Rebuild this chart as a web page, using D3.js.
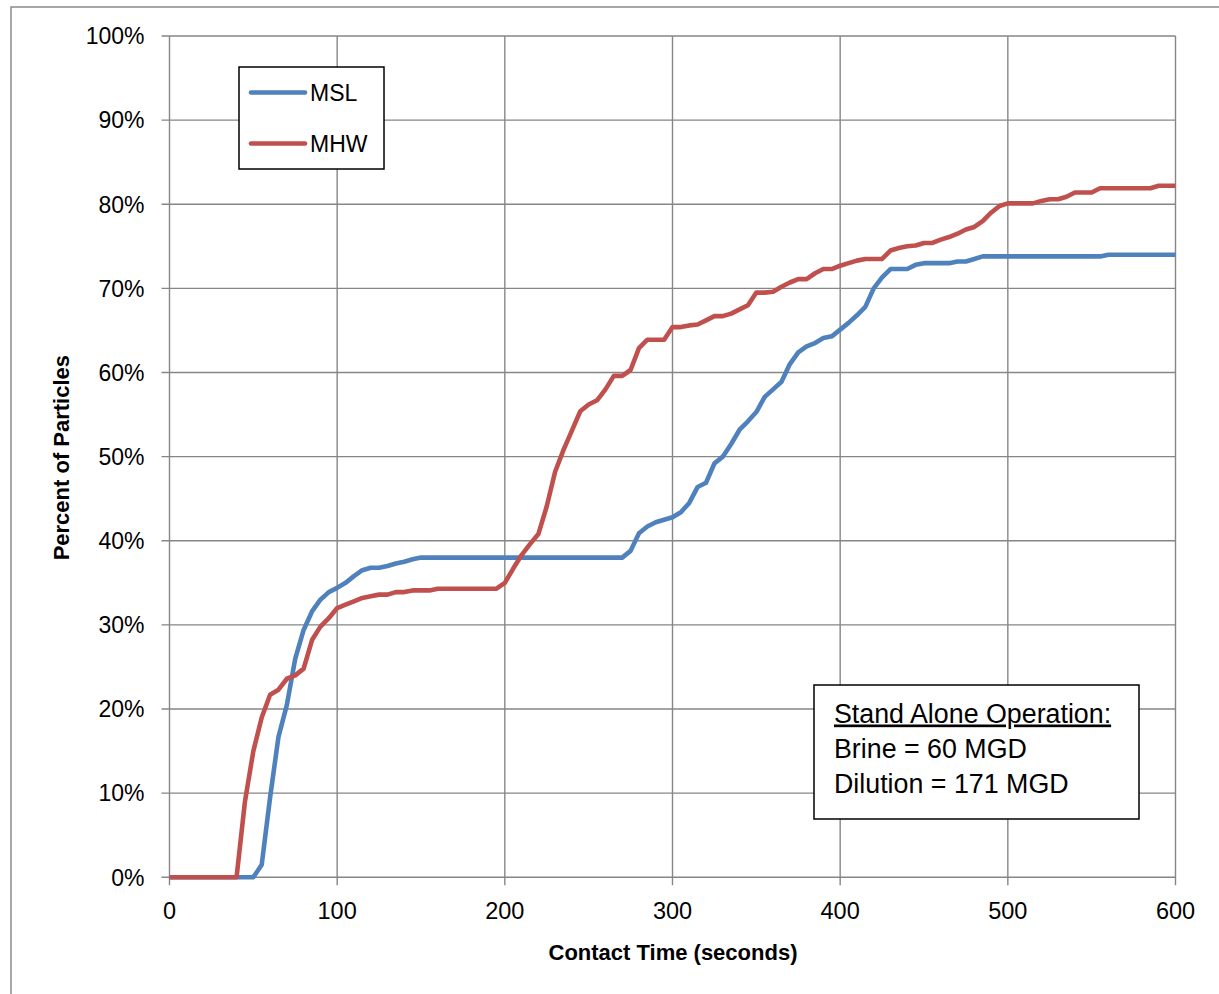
<!DOCTYPE html>
<html>
<head>
<meta charset="utf-8">
<script src="https://cdnjs.cloudflare.com/ajax/libs/d3/7.8.5/d3.min.js"></script>
<style>
    body { margin: 0; background: #fff; }
    text { font-family: "Liberation Sans", Arial, sans-serif; fill: #000; }
</style>
</head>
<body>
<div id="chart"></div>
<script>
// contact time (seconds), sampled every 5 s
var times = [
    0, 5, 10, 15, 20, 25, 30, 35, 40, 45,
    50, 55, 60, 65, 70, 75, 80, 85, 90, 95,
    100, 105, 110, 115, 120, 125, 130, 135, 140, 145,
    150, 155, 160, 165, 170, 175, 180, 185, 190, 195,
    200, 205, 210, 215, 220, 225, 230, 235, 240, 245,
    250, 255, 260, 265, 270, 275, 280, 285, 290, 295,
    300, 305, 310, 315, 320, 325, 330, 335, 340, 345,
    350, 355, 360, 365, 370, 375, 380, 385, 390, 395,
    400, 405, 410, 415, 420, 425, 430, 435, 440, 445,
    450, 455, 460, 465, 470, 475, 480, 485, 490, 495,
    500, 505, 510, 515, 520, 525, 530, 535, 540, 545,
    550, 555, 560, 565, 570, 575, 580, 585, 590, 595,
    600
];

// percent of particles
var msl = [
    0, 0, 0, 0, 0, 0, 0, 0, 0, 0,
    0, 1.5, 9.5, 16.7, 20.5, 26.0, 29.4, 31.6, 33.0, 33.9,
    34.4, 35.0, 35.8, 36.5, 36.8, 36.8, 37.0, 37.3, 37.5, 37.8,
    38.0, 38.0, 38.0, 38.0, 38.0, 38.0, 38.0, 38.0, 38.0, 38.0,
    38.0, 38.0, 38.0, 38.0, 38.0, 38.0, 38.0, 38.0, 38.0, 38.0,
    38.0, 38.0, 38.0, 38.0, 38.0, 38.8, 40.9, 41.7, 42.2, 42.5,
    42.8, 43.4, 44.5, 46.4, 46.9, 49.2, 50.0, 51.5, 53.2, 54.2,
    55.3, 57.1, 58.0, 58.9, 61.0, 62.4, 63.1, 63.5, 64.1, 64.3,
    65.1, 65.9, 66.8, 67.8, 70.0, 71.3, 72.3, 72.3, 72.3, 72.8,
    73.0, 73.0, 73.0, 73.0, 73.2, 73.2, 73.5, 73.8, 73.8, 73.8,
    73.8, 73.8, 73.8, 73.8, 73.8, 73.8, 73.8, 73.8, 73.8, 73.8,
    73.8, 73.8, 74.0, 74.0, 74.0, 74.0, 74.0, 74.0, 74.0, 74.0,
    74.0
];

var mhw = [
    0, 0, 0, 0, 0, 0, 0, 0, 0, 9.0,
    15.0, 19.0, 21.7, 22.3, 23.6, 24.0, 24.8, 28.2, 29.8, 30.8,
    32.0, 32.4, 32.8, 33.2, 33.4, 33.6, 33.6, 33.9, 33.9, 34.1,
    34.1, 34.1, 34.3, 34.3, 34.3, 34.3, 34.3, 34.3, 34.3, 34.3,
    35.0, 36.7, 38.3, 39.6, 40.8, 44.1, 48.2, 50.8, 53.1, 55.4,
    56.2, 56.7, 58.0, 59.6, 59.6, 60.3, 62.9, 63.9, 63.9, 63.9,
    65.4, 65.4, 65.6, 65.7, 66.2, 66.7, 66.7, 67.0, 67.5, 68.0,
    69.5, 69.5, 69.6, 70.2, 70.7, 71.1, 71.1, 71.8, 72.3, 72.3,
    72.7, 73.0, 73.3, 73.5, 73.5, 73.5, 74.5, 74.8, 75.0, 75.1,
    75.4, 75.4, 75.8, 76.1, 76.5, 77.0, 77.3, 78.0, 79.0, 79.8,
    80.1, 80.1, 80.1, 80.1, 80.4, 80.6, 80.6, 80.9, 81.4, 81.4,
    81.4, 81.9, 81.9, 81.9, 81.9, 81.9, 81.9, 81.9, 82.2, 82.2,
    82.2
];

var xTicks = [0, 100, 200, 300, 400, 500, 600];
var yTicks = [0, 10, 20, 30, 40, 50, 60, 70, 80, 90, 100];
var seriesNames = ["MSL", "MHW"];
var seriesColors = ["#4F81BD", "#C0504D"];
var noteLines = ["Stand Alone Operation:", "Brine = 60 MGD", "Dilution = 171 MGD"];

var W = 1219, H = 994;
var margin = { top: 36, right: 43.5, bottom: 116.7, left: 169.5 },
    width = W - margin.left - margin.right,
    height = H - margin.top - margin.bottom;

var root = d3.select("#chart").append("svg")
    .attr("width", W)
    .attr("height", H);

root.append("rect")
    .attr("width", W).attr("height", H)
    .attr("fill", "#fff");

// outer chart border
root.append("rect")
    .attr("x", 11).attr("y", 7)
    .attr("width", W + 20).attr("height", H + 20)
    .attr("fill", "none")
    .attr("stroke", "#8c8c8c")
    .attr("stroke-width", 1.5);

var svg = root.append("g")
    .attr("transform", "translate(" + margin.left + "," + margin.top + ")");

var x = d3.scaleLinear().domain([0, 600]).range([0, width]);
var y = d3.scaleLinear().domain([0, 100]).range([height, 0]);

// grid
svg.append("g")
    .selectAll("line")
    .data(yTicks)
    .enter().append("line")
    .attr("x1", -8).attr("x2", width)
    .attr("y1", function(d) { return y(d); })
    .attr("y2", function(d) { return y(d); })
    .attr("stroke", "#868686")
    .attr("stroke-width", 1.4);

svg.append("g")
    .selectAll("line")
    .data(xTicks)
    .enter().append("line")
    .attr("y1", 0).attr("y2", height + 8)
    .attr("x1", function(d) { return x(d); })
    .attr("x2", function(d) { return x(d); })
    .attr("stroke", "#868686")
    .attr("stroke-width", 1.4);

// tick labels
svg.append("g")
    .selectAll("text")
    .data(yTicks)
    .enter().append("text")
    .attr("x", -25)
    .attr("y", function(d) { return y(d); })
    .attr("dy", "0.36em")
    .attr("text-anchor", "end")
    .style("font-size", "23px")
    .text(function(d) { return d + "%"; });

svg.append("g")
    .selectAll("text")
    .data(xTicks)
    .enter().append("text")
    .attr("x", function(d) { return x(d); })
    .attr("y", height + 41.5)
    .attr("text-anchor", "middle")
    .style("font-size", "23.5px")
    .text(function(d) { return d; });

// axis titles
svg.append("text")
    .attr("x", width / 2 + 0.5)
    .attr("y", height + 82.5)
    .attr("text-anchor", "middle")
    .style("font-size", "22px")
    .style("font-weight", "bold")
    .text("Contact Time (seconds)");

svg.append("text")
    .attr("transform", "translate(" + (-100.5) + "," + (y(50) + 1) + ") rotate(-90)")
    .attr("text-anchor", "middle")
    .style("font-size", "22px")
    .style("font-weight", "bold")
    .text("Percent of Particles");

// lines
var series = [msl, mhw];
var line = d3.line()
    .x(function(d, i) { return x(times[i]); })
    .y(function(d) { return y(d); });

svg.selectAll(".series")
    .data(series)
    .enter().append("path")
    .attr("class", "series")
    .attr("d", line)
    .attr("fill", "none")
    .attr("stroke", function(d, i) { return seriesColors[i]; })
    .attr("stroke-width", 4.6)
    .attr("stroke-linejoin", "round");

// legend
var legend = root.append("g").attr("transform", "translate(239,67)");
legend.append("rect")
    .attr("width", 145).attr("height", 102)
    .attr("fill", "#fff")
    .attr("stroke", "#000")
    .attr("stroke-width", 1.5);

var items = legend.selectAll(".item")
    .data(seriesNames)
    .enter().append("g")
    .attr("transform", function(d, i) { return "translate(0," + (25.5 + i * 51) + ")"; });

items.append("line")
    .attr("x1", 12).attr("x2", 66)
    .attr("stroke", function(d, i) { return seriesColors[i]; })
    .attr("stroke-width", 4.6)
    .attr("stroke-linecap", "round");

items.append("text")
    .attr("x", 71)
    .attr("y", 8)
    .style("font-size", "23px")
    .text(function(d) { return d; });

// annotation box
var note = root.append("g").attr("transform", "translate(814,685)");
note.append("rect")
    .attr("width", 325).attr("height", 134)
    .attr("fill", "#fff")
    .attr("stroke", "#000")
    .attr("stroke-width", 1.5);

note.selectAll("text")
    .data(noteLines)
    .enter().append("text")
    .attr("x", 20)
    .attr("y", function(d, i) { return 37.5 + i * 35.2; })
    .style("font-size", "26.8px")
    .style("text-decoration", function(d, i) { return i == 0 ? "underline" : null; })
    .text(function(d) { return d; });
</script>
</body>
</html>
